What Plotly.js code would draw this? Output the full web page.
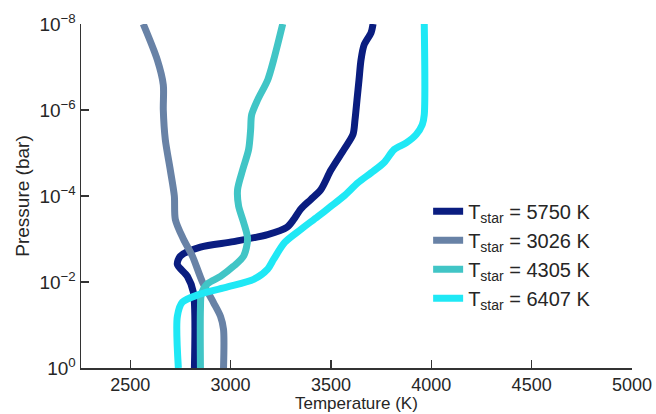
<!DOCTYPE html>
<html>
<head>
<meta charset="utf-8">
<script src="https://cdn.plot.ly/plotly-3.0.1.min.js"></script>
<style>html,body{margin:0;padding:0;background:#fff;}#chart{width:656px;height:414px;}</style>
</head>
<body>
<div id="chart"></div>
<script>
// Temperature-pressure profiles
const names = ["T<sub>star</sub> = 5750 K", "T<sub>star</sub> = 3026 K", "T<sub>star</sub> = 4305 K", "T<sub>star</sub> = 6407 K"];
const colors = ["#0a1d80", "#6882a6", "#41c5c6", "#1fe8f5"];

const T5750 = [3710, 3700, 3665, 3650, 3640, 3630, 3620, 3610, 3565, 3500, 3450, 3400, 3350, 3315, 3280, 3185, 3015, 2850, 2750, 2735, 2785, 2815, 2820];
const P5750 = [1e-8, 1.6e-8, 3.1e-8, 6.8e-8, 2.0e-7, 5.8e-7, 1.7e-6, 3.7e-6, 8.3e-6, 2.5e-5, 7.1e-5, 1.2e-4, 2.0e-4, 3.5e-4, 5.4e-4, 7.9e-4, 1.15e-3, 1.55e-3, 2.5e-3, 3.9e-3, 7.4e-3, 1.74e-2, 1];

const T3026 = [2565, 2635, 2665, 2665, 2675, 2700, 2720, 2725, 2765, 2810, 2860, 2915, 2950, 2965, 2965];
const P3026 = [1e-8, 6.8e-8, 2.6e-7, 1e-6, 4.9e-6, 2.5e-5, 1e-4, 3.5e-4, 1e-3, 2.5e-3, 1e-2, 3e-2, 6.3e-2, 0.126, 1];

const T4305 = [3260, 3215, 3185, 3135, 3105, 3100, 3090, 3060, 3035, 3040, 3065, 3085, 3065, 3015, 2950, 2885, 2855, 2850, 2850];
const P4305 = [1e-8, 6.8e-8, 2.0e-7, 5.8e-7, 1.3e-6, 2.9e-6, 8.3e-6, 2.5e-5, 7.1e-5, 1.7e-4, 4.1e-4, 1.0e-3, 2.5e-3, 4.3e-3, 7.4e-3, 1.1e-2, 1.9e-2, 4.3e-2, 1];

const T6407 = [3965, 3965, 3955, 3925, 3875, 3815, 3765, 3700, 3635, 3565, 3500, 3435, 3350, 3270, 3215, 3185, 3115, 2985, 2850, 2760, 2735, 2740];
const P6407 = [1e-8, 1.3e-6, 2.2e-6, 3.7e-6, 5.8e-6, 8.3e-6, 1.66e-5, 2.9e-5, 4.9e-5, 1.0e-4, 1.74e-4, 3.0e-4, 6.0e-4, 1.2e-3, 2.95e-3, 5.0e-3, 8.7e-3, 1.3e-2, 1.9e-2, 2.95e-2, 6.3e-2, 1];

const xTicks = [2500, 3000, 3500, 4000, 4500, 5000];
const yTickVals = [1e-8, 1e-6, 1e-4, 1e-2, 1];
const yTickText = ["10<sup>−8</sup>", "10<sup>−6</sup>", "10<sup>−4</sup>", "10<sup>−2</sup>", "10<sup>0</sup>"];
const xTitle = "Temperature (K)";
const yTitle = "Pressure (bar)";

const temps = [T5750, T3026, T4305, T6407];
const press = [P5750, P3026, P4305, P6407];

const traces = temps.map((t, i) => ({
  x: t, y: press[i], name: names[i], type: "scatter", mode: "lines",
  line: {color: colors[i], width: 7, shape: "spline", smoothing: 0.8}
}));

const fam = "Arial, 'Liberation Sans', sans-serif";
const txt = "#262626";

const layout = {
  width: 656, height: 414,
  margin: {l: 81, r: 24, t: 24, b: 46},
  paper_bgcolor: "#fff", plot_bgcolor: "#fff",
  font: {family: fam, size: 18, color: txt},
  showlegend: true,
  legend: {x: 0.63, y: 0.512, xanchor: "left", yanchor: "top", bgcolor: "rgba(0,0,0,0)",
           font: {family: fam, size: 20, color: txt}, tracegroupgap: 0},
  xaxis: {
    range: [2255, 5000], tickvals: xTicks, ticktext: xTicks.map(String),
    showgrid: false, zeroline: false, showline: true, linecolor: "#333", linewidth: 1.5,
    ticks: "inside", ticklen: 8, tickwidth: 1.3, tickcolor: "#333",
    tickfont: {family: fam, size: 18, color: txt}
  },
  yaxis: {
    type: "log", range: [0, -8], tickvals: yTickVals, ticktext: yTickText,
    showgrid: false, zeroline: false, showline: true, linecolor: "#333", linewidth: 1.5,
    ticks: "inside", ticklen: 8, tickwidth: 1.3, tickcolor: "#333",
    tickfont: {family: fam, size: 19, color: txt},
    title: {text: yTitle, font: {family: fam, size: 19, color: txt}, standoff: 4}
  },
  annotations: [{
    text: xTitle, xref: "paper", yref: "paper", x: 0.5, y: -0.1335,
    xanchor: "center", yanchor: "bottom", showarrow: false, borderpad: 0,
    font: {family: fam, size: 17, color: txt}
  }]
};

Plotly.newPlot("chart", traces, layout, {displayModeBar: false, staticPlot: true});
</script>
</body>
</html>
